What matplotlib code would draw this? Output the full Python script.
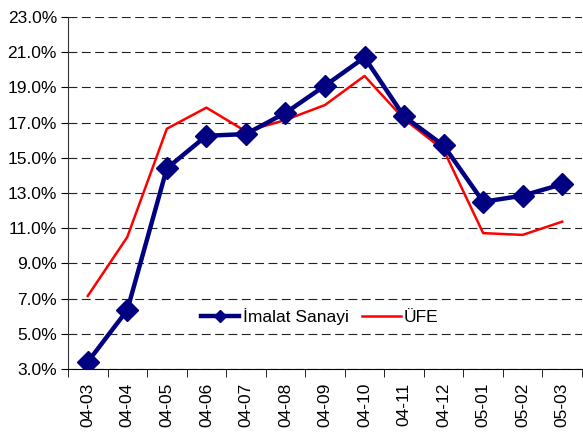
import matplotlib
matplotlib.use("Agg")
import matplotlib.pyplot as plt
import numpy as np

plt.rcParams["font.family"] = ["Liberation Sans", "DejaVu Sans"]

months = ["04-03", "04-04", "04-05", "04-06", "04-07", "04-08", "04-09",
          "04-10", "04-11", "04-12", "05-01", "05-02", "05-03"]
imalat = [3.4, 6.35, 14.4, 16.25, 16.35, 17.55, 19.1, 20.7, 17.35, 15.7, 12.5, 12.85, 13.5]
ufe = [7.15, 10.5, 16.65, 17.85, 16.5, 17.15, 18.0, 19.65, 17.2, 15.45, 10.72, 10.62, 11.37]
yticks = np.arange(3, 23.1, 2)

fig = plt.figure(figsize=(5.83, 4.44), dpi=100)
ax = fig.add_axes([68 / 583, 1 - 369 / 444, 514 / 583, 352 / 444])

x = np.arange(len(months))
ax.plot(x, imalat, color="#000080", linewidth=3.2, marker="D", markersize=11,
        label="İmalat Sanayi", zorder=3)
ax.plot(x, ufe, color="#FF0000", linewidth=1.8, label="ÜFE", zorder=2)

ax.set_xlim(-0.5, len(months) - 0.5)
ax.set_ylim(3, 23)
ax.set_yticks(yticks)
ax.set_yticklabels([f"{v:.1f}%" for v in yticks], fontsize=12.5)
ax.set_xticks(x)
ax.set_xticklabels(months, rotation=90, fontsize=12.5)
ax.set_xticks(np.arange(-0.5, len(months)), minor=True)
ax.tick_params(axis="x", which="major", length=0, pad=10)
ax.tick_params(axis="x", which="minor", length=6, direction="out", color="black")
ax.tick_params(axis="y", length=5, direction="out", color="black", pad=3)

ax.grid(axis="y", color="#222222", linestyle=(0, (8, 4)), linewidth=0.8)
ax.set_axisbelow(True)
for side in ["top", "right"]:
    ax.spines[side].set_visible(False)
ax.spines["left"].set_color("#333333")
ax.spines["bottom"].set_color("black")

leg = ax.legend(loc="center", bbox_to_anchor=(0.49, 0.148), ncol=2, frameon=True,
                fontsize=12.5, handlelength=2.2, handletextpad=0.2, columnspacing=0.8,
                borderpad=0.3, markerscale=0.6)
leg.get_frame().set_facecolor("white")
leg.get_frame().set_edgecolor("none")
leg.get_frame().set_alpha(0.6)

fig.savefig("out.png", dpi=100)
